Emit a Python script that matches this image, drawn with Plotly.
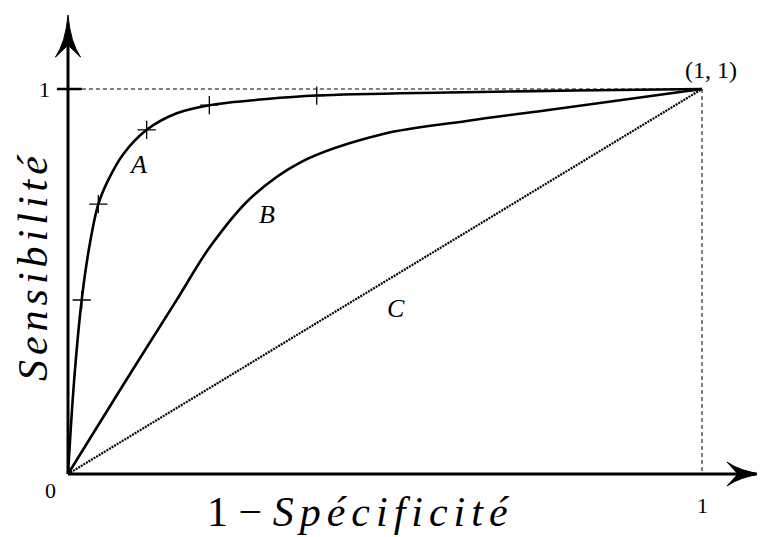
import plotly.graph_objects as go

# ---- data ----
curve_a_x = [0.0, 0.010, 0.0216, 0.0336, 0.0478, 0.0636, 0.0868, 0.1241, 0.1714, 0.2229, 0.3134, 0.3923, 0.6, 0.8, 1.0]
curve_a_y = [0.0, 0.25, 0.452, 0.590, 0.701, 0.764, 0.830, 0.894, 0.937, 0.958, 0.974, 0.983, 0.991, 0.996, 1.0]
marks_a_x = [0.0216, 0.0478, 0.1241, 0.2229, 0.3923]
marks_a_y = [0.452, 0.701, 0.894, 0.958, 0.983]

curve_b_x = [0.0, 0.085, 0.171, 0.224, 0.287, 0.366, 0.497, 0.629, 0.787, 1.0]
curve_b_y = [0.0, 0.226, 0.451, 0.590, 0.715, 0.809, 0.883, 0.917, 0.952, 1.0]

curve_c_x = [0.0, 1.0]
curve_c_y = [0.0, 1.0]

curve_labels = ["A", "B", "C"]
label_x = [0.110, 0.314, 0.517]
label_y = [0.805, 0.673, 0.431]

x_title_plain = "1 − "
x_title_italic = "Spécificité"
y_title = "Sensibilité"
tick_zero = "0"
tick_one = "1"
corner_label = "(1, 1)"

FONT = "Liberation Serif"

fig = go.Figure()

fig.add_trace(go.Scatter(x=curve_c_x, y=curve_c_y, mode="lines",
                         line=dict(color="black", width=2.2, dash="2px,1px"),
                         cliponaxis=False, hoverinfo="skip"))
fig.add_trace(go.Scatter(x=curve_b_x, y=curve_b_y, mode="lines",
                         line=dict(color="black", width=2.6, shape="spline", smoothing=1.0),
                         cliponaxis=False, hoverinfo="skip"))
fig.add_trace(go.Scatter(x=curve_a_x, y=curve_a_y, mode="lines",
                         line=dict(color="black", width=2.6, shape="spline", smoothing=1.0),
                         cliponaxis=False, hoverinfo="skip"))
fig.add_trace(go.Scatter(x=marks_a_x, y=marks_a_y, mode="markers",
                         marker=dict(symbol="cross-thin", size=13, line=dict(color="black", width=1.3)),
                         cliponaxis=False, hoverinfo="skip"))

shapes = []
# dashed guides
shapes.append(dict(type="line", x0=0.022, y0=1, x1=1, y1=1,
                   line=dict(color="black", width=1, dash="4px,3px")))
shapes.append(dict(type="line", x0=1, y0=1, x1=1, y1=0,
                   line=dict(color="black", width=1, dash="4px,3px")))
# axes
shapes.append(dict(type="line", x0=0, y0=0, x1=0, y1=1.12, line=dict(color="black", width=3)))
shapes.append(dict(type="line", x0=0, y0=0, x1=1.06, y1=0, line=dict(color="black", width=3)))
# tick at y=1
shapes.append(dict(type="line", x0=-0.0175, y0=1, x1=0.0218, y1=1, line=dict(color="black", width=2.5)))
# arrow heads
shapes.append(dict(type="path",
                   path="M 0 1.192 Q 0.004 1.12 0.0197 1.083 L 0 1.114 L -0.0197 1.083 Q -0.004 1.12 0 1.192 Z",
                   fillcolor="black", line=dict(color="black", width=1)))
shapes.append(dict(type="path",
                   path="M 1.0946 0 Q 1.06 0.007 1.0394 0.0312 L 1.0568 0 L 1.0394 -0.0312 Q 1.06 -0.007 1.0946 0 Z",
                   fillcolor="black", line=dict(color="black", width=1)))

annotations = []
for t, x, y in zip(curve_labels, label_x, label_y):
    annotations.append(dict(x=x, y=y, text=f"<i>{t}</i>", showarrow=False,
                            font=dict(family=FONT, size=26, color="black")))
annotations.append(dict(x=-0.028, y=-0.042, text=tick_zero, showarrow=False,
                        font=dict(family=FONT, size=22, color="black")))
annotations.append(dict(x=1.0, y=-0.083, text=tick_one, showarrow=False,
                        font=dict(family=FONT, size=22, color="black")))
annotations.append(dict(x=-0.037, y=1.0, text=tick_one, showarrow=False,
                        font=dict(family=FONT, size=22, color="black")))
annotations.append(dict(x=1.014, y=1.049, text=corner_label, showarrow=False,
                        font=dict(family=FONT, size=24, color="black")))
annotations.append(dict(x=0.462, y=-0.098, borderpad=0,
                        text=f"{x_title_plain}<span style=\"letter-spacing:6px\"><i>{x_title_italic}</i></span>",
                        showarrow=False, font=dict(family=FONT, size=42, color="black")))
annotations.append(dict(x=-0.0552, y=0.54, borderpad=0,
                        text=f"<span style=\"letter-spacing:5px\"><i>{y_title}</i></span>",
                        showarrow=False, textangle=-90,
                        font=dict(family=FONT, size=42, color="black")))

# the page body has an 8px margin: figure is sized/placed to compensate
fig.update_layout(
    width=757, height=529,
    margin=dict(l=0, r=0, t=0, b=0),
    paper_bgcolor="white", plot_bgcolor="white",
    showlegend=False,
    xaxis=dict(range=[-0.09464, 1.09937], visible=False, fixedrange=True),
    yaxis=dict(range=[-0.16364, 1.21039], visible=False, fixedrange=True),
    shapes=shapes,
    annotations=annotations,
)

fig.write_html("out.html")
